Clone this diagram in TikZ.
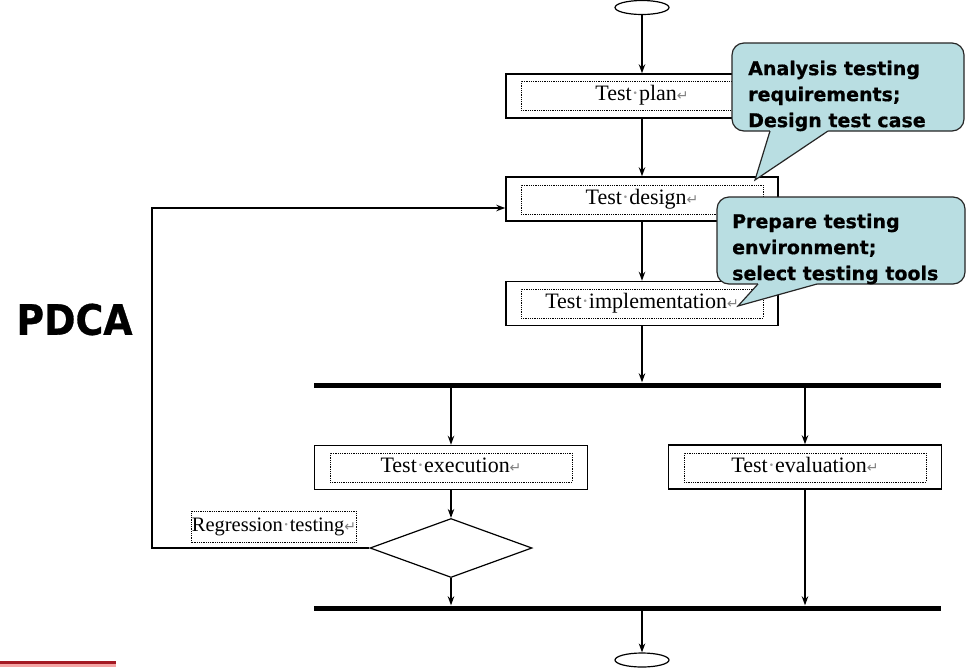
\documentclass[tikz,border=0pt]{standalone}
\usepackage{fontspec}
\setmainfont{Liberation Serif}
\newfontfamily\dvs{DejaVu Sans}
\newfontfamily\dvsh{DejaVu Sans}[BoldFeatures={FakeBold=0.7}]
\usetikzlibrary{arrows.meta,shapes.geometric,calc}
\definecolor{callfill}{RGB}{185,222,226}
\definecolor{darkred}{RGB}{165,25,35}
\definecolor{lightred}{RGB}{245,165,165}
\newcommand{\spm}{\textcolor{gray!80}{·}}
\newcommand{\retm}{{\dvs\fontsize{14}{14}\selectfont\textcolor{gray}{↵}}}
\tikzset{
  box/.style={draw, line width=1.5pt, minimum width=272pt, minimum height=44pt, inner sep=0pt},
  inbox/.style={draw, densely dotted, line width=0.8pt, minimum width=242pt, minimum height=29pt,
    inner sep=0pt, text height=15pt, text depth=5pt, font=\fontsize{22}{26}\selectfont},
  regbox/.style={draw, densely dotted, line width=0.8pt, minimum width=164pt, minimum height=31pt,
    inner sep=0pt, text height=14pt, text depth=5pt, font=\fontsize{20.5}{24}\selectfont},
  arr/.style={-{Stealth[length=9pt,width=6.5pt]}, line width=1.4pt},
  bar/.style={fill=black, minimum width=627pt, minimum height=5pt, inner sep=0pt, draw=none},
  term/.style={ellipse, draw, line width=1.2pt, minimum width=54pt, minimum height=14pt, inner sep=0pt},
  callbody/.style={draw=black!85, fill=callfill, rounded corners=12pt, line width=1.2pt, inner sep=0pt},
  calltext/.style={font=\dvsh\bfseries\fontsize{19}{26}\selectfont, align=left, anchor=north west, inner sep=0pt},
}
\begin{document}
\begin{tikzpicture}[x=1pt,y=-1pt]
\useasboundingbox (0,0) rectangle (979,667);
\fill[white] (0,0) rectangle (979,667);

% terminals
\node[term] (startE) at (642,7.5) {};
\node[term] (endE) at (642,660) {};

% boxes
\node[box] (plan) at (642,96) {};
\node[inbox] (planin) at (642,95.5) {Test\spm plan\retm};
\node[box] (design) at (642,199) {};
\node[inbox] (designin) at (642,199.5) {Test\spm design\retm};
\node[box] (impl) at (642,303.5) {};
\node[inbox] (implin) at (642,303.5) {Test\spm implementation\retm};

\node[bar] (bar1) at (627.5,385) {};
\node[bar] (bar2) at (627.5,608) {};

\node[box, minimum width=273pt] (exec) at (451,467.5) {};
\node[inbox] (execin) at (451,467.5) {Test\spm execution\retm};
\node[box, minimum width=273pt] (eval) at (805,467) {};
\node[inbox] (evalin) at (805,467.5) {Test\spm evaluation\retm};

\node[diamond, draw, line width=1.2pt, aspect=2.75, minimum width=162pt, minimum height=59pt, inner sep=0pt] (dia) at (451,548) {};
\node[regbox] (reg) at (274,526.5) {Regression\spm testing\retm};

\coordinate (fb) at (152,548);

% connectors
\draw[arr] (startE.south) -- (plan.north);
\draw[arr] (plan.south) -- (design.north);
\draw[arr] (design.south) -- (impl.north);
\draw[arr] (impl.south) -- (impl.south |- bar1.north);
\draw[arr] (bar1.south -| exec.north) -- (exec.north);
\draw[arr] (bar1.south -| eval.north) -- (eval.north);
\draw[arr] (exec.south) -- (dia.north);
\draw[arr] (dia.south) -- (dia.south |- bar2.north);
\draw[arr] (eval.south) -- (eval.south |- bar2.north);
\draw[arr] (bar2.south -| endE.north) -- (endE.north);
\draw[arr] (dia.west) -- (fb) |- ([yshift=-9pt]design.west);

% PDCA
\node[font=\dvsh\bfseries\fontsize{42}{42}\selectfont, inner sep=0pt] (pdca) at (74.5,319.5) {\scalebox{0.9}[1]{PDCA}};

% callout 1
\node[callbody, minimum width=232pt, minimum height=88pt] (c1) at (848,87) {};
\fill[callfill] (770,131) -- (755,180) -- (828,131) -- (828,128) -- (770,128) -- cycle;
\draw[black!85, line width=1.2pt, line join=miter] (770,131) -- (755,180) -- (828,131);
\node[calltext] (c1t) at (748,60.5) {Analysis testing\\requirements;\\Design test case};

% callout 2
\node[callbody, minimum width=248pt, minimum height=87pt] (c2) at (841,240.5) {};
\fill[callfill] (758,284) -- (738,306) -- (817,284) -- (817,281) -- (758,281) -- cycle;
\draw[black!85, line width=1.2pt, line join=miter] (758,284) -- (738,306) -- (817,284);
\node[calltext] (c2t) at (732,213.5) {Prepare testing\\environment;\\select testing tools};

% red rule at bottom left
\fill[darkred] (0,660.5) rectangle (116,663.5);
\fill[lightred] (0,663.5) rectangle (116,667);
\end{tikzpicture}
\end{document}
